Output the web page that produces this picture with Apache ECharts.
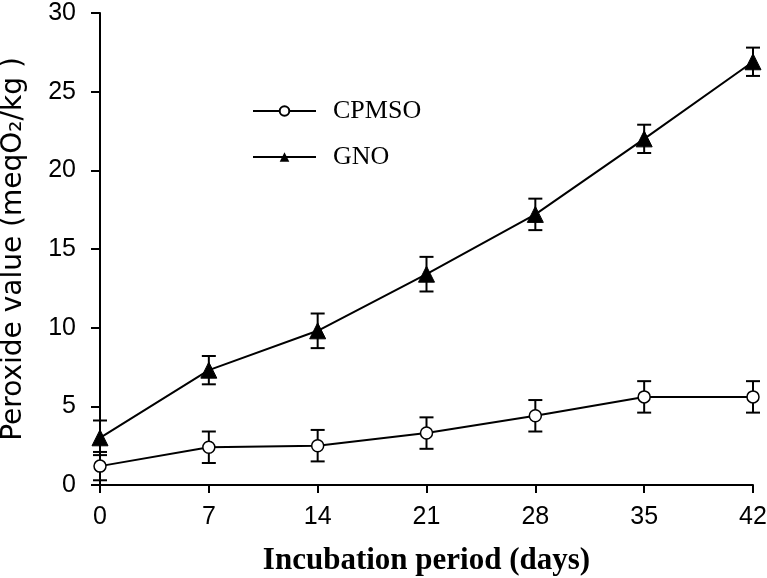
<!DOCTYPE html>
<html>
<head>
<meta charset="utf-8">
<script src="https://cdn.jsdelivr.net/npm/echarts@6/dist/echarts.min.js"></script>
<style>
  html, body { margin: 0; padding: 0; background: #fff; }
  #chart { width: 767px; height: 578px; }
</style>
</head>
<body>
<div id="chart"></div>
<script>
// incubation days
const days = [0, 7, 14, 21, 28, 35, 42]
const yTicks = [0, 5, 10, 15, 20, 25, 30]

// peroxide values and error (+/-)
const cpmso = [1.2, 2.4, 2.5, 3.3, 4.4, 5.6, 5.6]
const cpmsoErr = [0.9, 1.0, 1.0, 1.0, 1.0, 1.0, 1.0]
const gno = [3.0, 7.3, 9.8, 13.4, 17.2, 22.0, 26.9]
const gnoErr = [1.1, 0.9, 1.1, 1.1, 1.0, 0.9, 0.9]

const pairs = (ys) => days.map((d, i) => [d, ys[i]])
const errData = (ys, errs) => days.map((d, i) => [d, ys[i] - errs[i], ys[i] + errs[i]])

const errorBar = (params, api) => {
    const x = api.value(0)
    const lo = api.coord([x, api.value(1)])
    const hi = api.coord([x, api.value(2)])
    const w = 7
    const style = { stroke: '#000', lineWidth: 2 }
    return {
        type: 'group',
        children: [
            { type: 'line', shape: { x1: lo[0], y1: lo[1], x2: hi[0], y2: hi[1] }, style },
            { type: 'line', shape: { x1: lo[0] - w, y1: lo[1], x2: lo[0] + w, y2: lo[1] }, style },
            { type: 'line', shape: { x1: hi[0] - w, y1: hi[1], x2: hi[0] + w, y2: hi[1] }, style }
        ]
    }
}

const sans = "'Liberation Sans', Arial, sans-serif"
const wideSans = "'DejaVu Sans', sans-serif"
const serif = "'Liberation Serif', 'DejaVu Serif', serif"

const chart = echarts.init(document.getElementById('chart'))
chart.setOption({
    animation: false,
    backgroundColor: '#fff',
    grid: { left: 100, right: 14, top: 13, bottom: 93, outerBoundsMode: 'none', containLabel: false },
    legend: {
        orient: 'vertical',
        left: 247,
        top: 93,
        itemWidth: 63,
        itemHeight: 12,
        itemGap: 20,
        textStyle: { fontFamily: serif, fontSize: 26, color: '#000', padding: [0, 0, 0, 12] },
        data: ['CPMSO', 'GNO']
    },
    xAxis: {
        type: 'value',
        min: 0,
        max: 42,
        interval: 7,
        name: 'Incubation period (days)',
        nameLocation: 'middle',
        nameGap: 60,
        nameTextStyle: { fontFamily: serif, fontSize: 31, fontWeight: 'bold', color: '#000' },
        axisLine: { lineStyle: { color: '#000', width: 2 } },
        axisTick: { lineStyle: { color: '#000', width: 2 }, length: 8 },
        axisLabel: { fontFamily: sans, fontSize: 25, color: '#000', margin: 20 },
        splitLine: { show: false }
    },
    yAxis: {
        type: 'value',
        min: 0,
        max: 30,
        interval: 5,
        name: 'Peroxide value (meqO\u2082/kg )',
        nameLocation: 'middle',
        nameGap: 72,
        nameTextStyle: { fontFamily: wideSans, fontSize: 28, color: '#000' },
        axisLine: { show: true, lineStyle: { color: '#000', width: 2 } },
        axisTick: { show: true, lineStyle: { color: '#000', width: 2 }, length: 9 },
        axisLabel: {
            fontFamily: sans, fontSize: 25, color: '#000', margin: 24,
            formatter: (v) => yTicks.includes(v) ? String(v) : ''
        },
        splitLine: { show: false }
    },
    series: [
        {
            name: 'CPMSO-err',
            type: 'custom',
            renderItem: errorBar,
            data: errData(cpmso, cpmsoErr),
            z: 1
        },
        {
            name: 'GNO-err',
            type: 'custom',
            renderItem: errorBar,
            data: errData(gno, gnoErr),
            z: 1
        },
        {
            name: 'CPMSO',
            type: 'line',
            data: pairs(cpmso),
            symbol: 'circle',
            symbolSize: 12,
            itemStyle: { color: '#fff', borderColor: '#000', borderWidth: 1.5 },
            lineStyle: { color: '#000', width: 2 },
            z: 3
        },
        {
            name: 'GNO',
            type: 'line',
            data: pairs(gno),
            symbol: 'triangle',
            symbolSize: 16,
            itemStyle: { color: '#000', borderColor: '#000' },
            lineStyle: { color: '#000', width: 2 },
            z: 3
        }
    ]
})
</script>
</body>
</html>
